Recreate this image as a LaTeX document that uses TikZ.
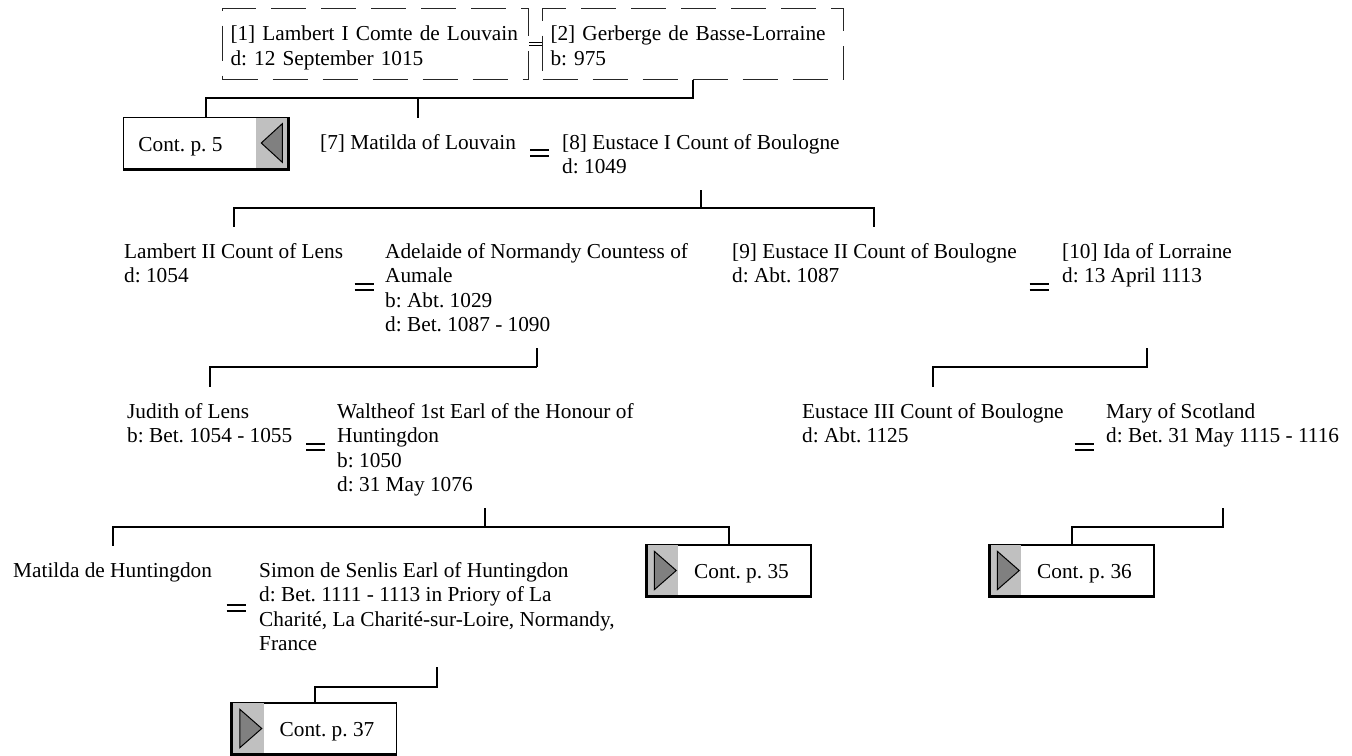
\documentclass[tikz,border=0pt]{standalone}
\usepackage{fontspec}
\setmainfont{Liberation Serif}
\newcommand\pf{\fontsize{21.3}{24.5}\selectfont\frenchspacing}
\newcommand\tops{\rule{0pt}{31.5pt}}
\newcommand\bots{\rule[-16.5pt]{0pt}{16.5pt}}
\definecolor{panelgray}{HTML}{C0C0C0}
\definecolor{trigray}{HTML}{808080}
\newcommand\marr[2]{\draw[eqbar] (#1-9.5,#2-3.3) -- (#1+9.5,#2-3.3) (#1-9.5,#2+3.3) -- (#1+9.5,#2+3.3);}
% continuation box, panel on the left, triangle pointing right
\newcommand\contR[4]{%
  \node[contbox] (#1) at (#2,#3) {\raisebox{-8pt}[0pt][0pt]{\hspace*{25pt}#4}};
  \fill[panelgray] ([xshift=0.75pt,yshift=-0.75pt]#1.north west) rectangle ([xshift=32pt,yshift=0.75pt]#1.south west);
  \filldraw[fill=trigray, draw=black, line width=1pt] ([xshift=8pt,yshift=-7pt]#1.north west) -- ([xshift=8pt,yshift=7pt]#1.south west) -- ([xshift=30pt]#1.west) -- cycle;
  \draw[line width=3pt] (#1.north west) -- (#1.south west) -- (#1.south east);
}
% continuation box, panel on the right, triangle pointing left
\newcommand\contL[4]{%
  \node[contbox] (#1) at (#2,#3) {\raisebox{-8pt}[0pt][0pt]{#4\hspace*{50pt}}};
  \fill[panelgray] ([xshift=-0.75pt,yshift=-0.75pt]#1.north east) rectangle ([xshift=-32pt,yshift=0.75pt]#1.south east);
  \filldraw[fill=trigray, draw=black, line width=1pt] ([xshift=-6pt,yshift=-7pt]#1.north east) -- ([xshift=-6pt,yshift=7pt]#1.south east) -- ([xshift=-27pt]#1.east) -- cycle;
  \draw[line width=3pt] (#1.north east) -- (#1.south east) -- (#1.south west);
}
\begin{document}
\begin{tikzpicture}[x=1pt,y=-1pt,
  conn/.style={draw=black, line width=2pt},
  eqbar/.style={draw=black, line width=1.8pt},
  person/.style={anchor=north west, inner sep=0pt, align=left, font=\pf},
  dashbox/.style={draw=black!85, line width=1pt, dash pattern=on 35pt off 15pt, anchor=north west, inner xsep=8pt, inner ysep=0pt, text width=#1, align=left, font=\pf},
  contbox/.style={draw=black, line width=1.5pt, fill=white, minimum width=164pt, minimum height=51pt, inner sep=0pt, font=\pf},
]
\useasboundingbox (0,0) rectangle (1352,755);

% top couple
\node[dashbox=290pt] (p1) at (222,8) {\rule{0pt}{32pt}[1] Lambert I Comte de Louvain\\d: 12 September 1015\rule[-14.5pt]{0pt}{14.5pt}};
\node[dashbox=285pt] (p2) at (542,8) {\rule{0pt}{32pt}[2] Gerberge de Basse-Lorraine\\b: 975\rule[-14.5pt]{0pt}{14.5pt}};
\draw[line width=0.9pt] ([yshift=1.8pt]p1.east) -- ([yshift=1.8pt]p2.west)
                        ([yshift=-1.8pt]p1.east) -- ([yshift=-1.8pt]p2.west);

% persons
\node[person] (m7) at (320,117.5) {\tops[7] Matilda of Louvain\bots};
\node[person] (e8) at (562,117.5) {\tops[8] Eustace I Count of Boulogne\\d: 1049\bots};
\node[person] (l2) at (124,226.5) {\tops Lambert II Count of Lens\\d: 1054\bots};
\node[person] (ad) at (385,226.5) {\tops Adelaide of Normandy Countess of\\Aumale\\b: Abt. 1029\\d: Bet. 1087 - 1090\bots};
\node[person] (e9) at (732,226.5) {\tops[9] Eustace II Count of Boulogne\\d: Abt. 1087\bots};
\node[person] (i10) at (1062,226.5) {\tops[10] Ida of Lorraine\\d: 13 April 1113\bots};
\node[person] (ju) at (127,386.5) {\tops Judith of Lens\\b: Bet. 1054 - 1055\bots};
\node[person] (wa) at (337,386.5) {\tops Waltheof 1st Earl of the Honour of\\Huntingdon\\b: 1050\\d: 31 May 1076\bots};
\node[person] (e3) at (802,386.5) {\tops Eustace III Count of Boulogne\\d: Abt. 1125\bots};
\node[person] (ma) at (1106,386.5) {\tops Mary of Scotland\\d: Bet. 31 May 1115 - 1116\bots};
\node[person] (mh) at (13,545.5) {\tops Matilda de Huntingdon\bots};
\node[person] (si) at (259,545.5) {\tops Simon de Senlis Earl of Huntingdon\\d: Bet. 1111 - 1113 in Priory of La\\Charit\'e, La Charit\'e-sur-Loire, Normandy,\\France\bots};

% marriage signs
\marr{539.5}{153}
\marr{364}{287}
\marr{1039}{287}
\marr{315.5}{447}
\marr{1084}{447}
\marr{236}{608}

% continuation boxes
\contL{c5}{205.5}{143}{Cont. p. 5}
\contR{c35}{729}{570.5}{Cont. p. 35}
\contR{c36}{1072}{570.5}{Cont. p. 36}
\contR{c37}{314.5}{728.5}{Cont. p. 37}

% bar levels
\coordinate (bar1) at (0,98);
\coordinate (bar2) at (0,208);
\coordinate (bar3) at (0,367);
\coordinate (bar4) at (0,527);
\coordinate (bar5) at (0,687);

% connectors
\draw[conn] (p2.south) -- (p2.south |- bar1) -- (c5.north |- bar1) -- (c5.north);
\draw[conn] (m7.north |- bar1) -- (m7.north);

\draw[conn] (e8.south) -- (e8.south |- bar2);
\draw[conn] (l2.north) -- (l2.north |- bar2) -- (e9.north |- bar2) -- (e9.north);

\draw[conn] (ad.south) -- (ad.south |- bar3);
\draw[conn] (ju.north) -- (ju.north |- bar3) -- (ad.south |- bar3);
\draw[conn] (i10.south |- ad.south) -- (i10.south |- bar3) -- (e3.north |- bar3) -- (e3.north);

\draw[conn] (wa.south) -- (wa.south |- bar4);
\draw[conn] (mh.north) -- (mh.north |- bar4) -- (c35.north |- bar4) -- (c35.north);
\draw[conn] (ma.south |- wa.south) -- (ma.south |- bar4) -- (c36.north |- bar4) -- (c36.north);

\draw[conn] (si.south) -- (si.south |- bar5) -- (c37.north |- bar5) -- (c37.north);
\end{tikzpicture}
\end{document}
